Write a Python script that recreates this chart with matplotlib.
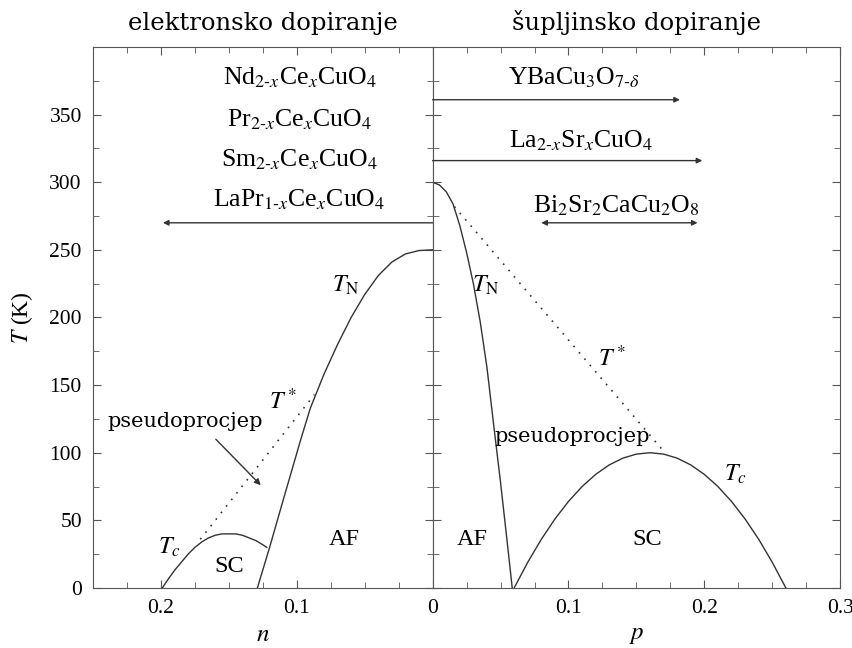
import matplotlib
matplotlib.use('Agg')
import matplotlib.pyplot as plt
from matplotlib.ticker import MultipleLocator

plt.rcParams['font.family'] = ['Liberation Serif', 'DejaVu Serif']
plt.rcParams['mathtext.fontset'] = 'stix'

# --- electron doped side (n) ---
tn_n = [0.0, 0.01, 0.02, 0.03, 0.04, 0.05, 0.06, 0.07, 0.08, 0.09, 0.097, 0.11, 0.12, 0.129]
tn_T = [250, 249.5, 247, 241, 231, 217, 200, 180, 158, 133, 110, 65, 30, 0]

tc_n = [0.199, 0.195, 0.19, 0.185, 0.18, 0.175, 0.17, 0.165, 0.16, 0.155, 0.15,
        0.145, 0.14, 0.135, 0.13, 0.125, 0.122]
tc_T = [0, 6, 13, 19, 25, 30, 34, 37, 39, 40, 40, 40, 39, 37, 35, 32, 30]

ts_n = [0.171, 0.087]
ts_T = [36, 143]

# --- hole doped side (p) ---
tnp_p = [0.0, 0.005, 0.01, 0.015, 0.02, 0.025, 0.03, 0.035, 0.04, 0.045, 0.05, 0.055, 0.0586]
tnp_T = [300, 298, 293, 284, 268, 248, 225, 197, 163, 120, 78, 33, 0]

tcp_p = [0.06, 0.07, 0.08, 0.09, 0.10, 0.11, 0.12, 0.13, 0.14, 0.15, 0.16,
         0.17, 0.18, 0.19, 0.20, 0.21, 0.22, 0.23, 0.24, 0.25, 0.26]
tcp_T = [0, 19, 36, 51, 64, 75, 84, 91, 96, 99, 100,
         99, 96, 91, 84, 75, 64, 51, 36, 19, 0]

tsp_p = [0.016, 0.171]
tsp_T = [282, 100]

lc = '#333333'
fig = plt.figure(figsize=(8.53, 6.48), dpi=100)
gs = fig.add_gridspec(1, 2, width_ratios=[0.25, 0.3], wspace=0,
                      left=0.109, right=0.985, bottom=0.0926, top=0.9275)
ax1 = fig.add_subplot(gs[0])
ax2 = fig.add_subplot(gs[1], sharey=ax1)

for ax in (ax1, ax2):
    ax.xaxis.set_major_locator(MultipleLocator(0.1))
    ax.xaxis.set_minor_locator(MultipleLocator(0.025))
    ax.yaxis.set_major_locator(MultipleLocator(50))
    ax.yaxis.set_minor_locator(MultipleLocator(25))
    ax.tick_params(which='both', direction='in', top=True, right=True,
                   color='#555555', labelsize=15.5, pad=8)
    ax.tick_params(which='major', length=6)
    ax.tick_params(which='minor', length=4.5)
    for s in ax.spines.values():
        s.set_color('#555555')

ax1.set_xlim(0.25, 0)
ax2.set_xlim(0, 0.3)
ax1.set_ylim(0, 400)
ax1.set_yticks([0, 50, 100, 150, 200, 250, 300, 350])
ax2.tick_params(labelleft=False)
ax1.set_xticks([0.2, 0.1, 0])
ax1.set_xticklabels(['0.2', '0.1', '0'])
ax2.set_xticks([0.1, 0.2, 0.3])
ax2.set_xticklabels(['0.1', '0.2', '0.3'])

ax1.set_xlabel('$n$', fontsize=18)
ax2.set_xlabel('$p$', fontsize=18)
ax1.set_ylabel('$T$ (K)', fontsize=17, labelpad=10)

# curves
ax1.plot(tn_n, tn_T, color=lc, lw=1)
ax1.plot(tc_n, tc_T, color=lc, lw=1)
ax1.plot(ts_n, ts_T, color=lc, lw=1.2, ls=(0, (1, 4)))
ax2.plot(tnp_p, tnp_T, color=lc, lw=1)
ax2.plot(tcp_p, tcp_T, color=lc, lw=1)
ax2.plot(tsp_p, tsp_T, color=lc, lw=1.2, ls=(0, (1, 4)))

fs = 17.5
ax1.text(0.064, 224, r'$T_{\rm N}$', fontsize=fs, ha='center', va='center')
ax1.text(0.11, 138, r'$T^*$', fontsize=fs, ha='center', va='center')
ax1.text(0.194, 30, r'$T_c$', fontsize=fs, ha='center', va='center')
ax1.text(0.15, 16, 'SC', fontsize=fs, ha='center', va='center')
ax1.text(0.065, 36, 'AF', fontsize=fs, ha='center', va='center')
ax1.text(0.182, 123, 'pseudoprocjep', fontsize=15, family='DejaVu Serif',
         ha='center', va='center')
ax1.annotate('', xy=(0.1265, 76), xytext=(0.1596, 110),
             arrowprops=dict(arrowstyle='-|>', color=lc, lw=1,
                             mutation_scale=9, shrinkA=0, shrinkB=0))

ax2.text(0.039, 224, r'$T_{\rm N}$', fontsize=fs, ha='center', va='center')
ax2.text(0.132, 170, r'$T^*$', fontsize=fs, ha='center', va='center')
ax2.text(0.223, 84, r'$T_c$', fontsize=fs, ha='center', va='center')
ax2.text(0.158, 36, 'SC', fontsize=fs, ha='center', va='center')
ax2.text(0.029, 36, 'AF', fontsize=fs, ha='center', va='center')
ax2.text(0.103, 112, 'pseudoprocjep', fontsize=15, family='DejaVu Serif',
         ha='center', va='center')

# compounds, electron doped
fc = 18.5
left_names = [r'Nd$_{2\text{-}x}$Ce$_x$CuO$_4$', r'Pr$_{2\text{-}x}$Ce$_x$CuO$_4$',
              r'Sm$_{2\text{-}x}$Ce$_x$CuO$_4$', r'LaPr$_{1\text{-}x}$Ce$_x$CuO$_4$']
left_y = [377, 346, 317, 287]
for name, yv in zip(left_names, left_y):
    ax1.text(0.098, yv, name, fontsize=fc, ha='center', va='center')
ax1.annotate('', xy=(0.1985, 270), xytext=(0.0, 270),
             arrowprops=dict(arrowstyle='-|>', color=lc, lw=1,
                             mutation_scale=8, shrinkA=0, shrinkB=0))

# compounds, hole doped
ax2.text(0.104, 377, r'YBaCu$_3$O$_{7\text{-}\delta}$', fontsize=fc, ha='center', va='center')
ax2.annotate('', xy=(0.182, 361), xytext=(0.0, 361),
             arrowprops=dict(arrowstyle='-|>', color=lc, lw=1,
                             mutation_scale=8, shrinkA=0, shrinkB=0))
ax2.text(0.109, 331, r'La$_{2\text{-}x}$Sr$_x$CuO$_4$', fontsize=fc, ha='center', va='center')
ax2.annotate('', xy=(0.1985, 316), xytext=(0.0, 316),
             arrowprops=dict(arrowstyle='-|>', color=lc, lw=1,
                             mutation_scale=8, shrinkA=0, shrinkB=0))
ax2.text(0.135, 283, r'Bi$_2$Sr$_2$CaCu$_2$O$_8$', fontsize=fc, ha='center', va='center')
ax2.annotate('', xy=(0.195, 270), xytext=(0.08, 270),
             arrowprops=dict(arrowstyle='<|-|>', color=lc, lw=1,
                             mutation_scale=8, shrinkA=0, shrinkB=0))

ax1.set_title('elektronsko dopiranje', fontsize=17.5, family='DejaVu Serif', pad=12)
ax2.set_title('šupljinsko dopiranje', fontsize=17.5, family='DejaVu Serif', pad=12)

fig.savefig('out.png', dpi=100)
